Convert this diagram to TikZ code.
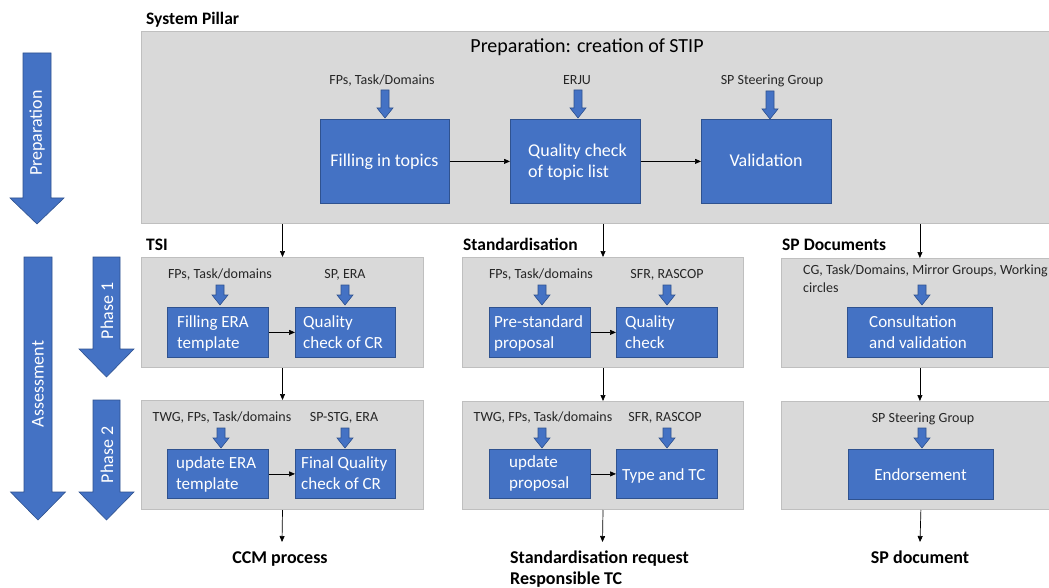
\documentclass[tikz,border=0pt]{standalone}
\usepackage{fontspec}
\setmainfont{Carlito}
\usetikzlibrary{arrows.meta}

\definecolor{panelfill}{HTML}{D9D9D9}
\definecolor{panelline}{HTML}{BFBFBF}
\definecolor{taskblue}{HTML}{4472C4}
\definecolor{taskline}{HTML}{2F528F}
\definecolor{labelgrey}{HTML}{262626}

\tikzset{
  panel/.style={draw=panelline, fill=panelfill, line width=1pt, inner sep=0pt, anchor=north west},
  task/.style={draw=taskline, fill=taskblue, line width=0.8pt, inner sep=0pt, anchor=north west},
  tasktext/.style={text=white, font=\fontsize{17}{21}\selectfont, inner sep=0pt, anchor=base west},
  bigtask/.style={tasktext, font=\fontsize{18}{22}\selectfont},
  inputlabel/.style={text=labelgrey, font=\fontsize{14}{17}\selectfont, inner sep=0pt, anchor=base},
  heading/.style={font=\bfseries\fontsize{17.5}{21}\selectfont, inner sep=0pt, anchor=base west},
  outcome/.style={font=\bfseries\fontsize{18}{21}\selectfont, inner sep=0pt, anchor=base west},
  flow/.style={-{Triangle[length=6pt,width=5pt]}, line width=0.7pt},
  blockarrow/.style={fill=taskblue, draw=taskline, line width=0.6pt},
  arrowtext/.style={text=white, font=\fontsize{18}{22}\selectfont, inner sep=0pt, rotate=90},
}

% small input arrow: x, top, tip
\newcommand\inputarrow[3]{%
  \draw[blockarrow] ({#1-4},#2) -- ({#1+4},#2) -- ({#1+4},{#3-10}) -- ({#1+8},{#3-10})
    -- (#1,#3) -- ({#1-8},{#3-10}) -- ({#1-4},{#3-10}) -- cycle;}
% big phase arrow: centre x, top, head start, tip, shaft half width, head half width
\newcommand\phasearrow[6]{%
  \draw[blockarrow] ({#1-#5},#2) -- ({#1+#5},#2) -- ({#1+#5},#3) -- ({#1+#6},#3)
    -- (#1,#4) -- ({#1-#6},#3) -- ({#1-#5},#3) -- cycle;}

\begin{document}
\begin{tikzpicture}[x=1pt,y=-1pt]
\useasboundingbox[fill=white] (0,0) rectangle (1049,588);

% ---------- phase arrows on the left ----------
\phasearrow{37}{53}{198}{224}{14}{27}
\node[arrowtext] (tprep) at (37,133) {Preparation};
\phasearrow{38}{257}{492}{520}{14}{27.5}
\node[arrowtext] (tassess) at (38,384) {Assessment};
\phasearrow{106.5}{257}{349}{377}{13.5}{27.5}
\node[arrowtext] (tph1) at (107,311) {Phase 1};
\phasearrow{106.5}{400}{492}{520}{13.5}{27.5}
\node[arrowtext] (tph2) at (107,455) {Phase 2};

% ---------- System Pillar ----------
\node[heading] (hsp) at (146,25) {System Pillar};
\node[panel, minimum width=920pt, minimum height=192pt] (prep) at (141,31) {};
\node[inner sep=0pt, anchor=base, font=\fontsize{20}{24}\selectfont] (ptitle) at (587,53) {Preparation: creation of STIP};

\node[inputlabel] (l1) at (382,85) {FPs, Task/Domains};
\node[inputlabel] (l2) at (577,85) {ERJU};
\node[inputlabel] (l3) at (772,85) {SP Steering Group};
\inputarrow{385}{90}{118}
\inputarrow{578}{90}{118}
\inputarrow{770}{91}{119}

\node[task, minimum width=129pt, minimum height=84pt] (fill) at (320,119) {};
\node[task, minimum width=130pt, minimum height=84pt] (qtl) at (510,119) {};
\node[task, minimum width=130pt, minimum height=84pt] (valid) at (701,119) {};
\node[bigtask, anchor=base] (tfill) at (384.5,167) {Filling in topics};
\node[bigtask] (tqtl1) at (528,157) {Quality check};
\node[bigtask] (tqtl2) at (528,178) {of topic list};
\node[bigtask, anchor=base] (tvalid) at (766,167) {Validation};
\draw[flow] (fill.east) -- (qtl.west);
\draw[flow] (qtl.east) -- (valid.west);

% ---------- TSI ----------
\node[heading] (htsi) at (146,251) {TSI};
\node[panel, minimum width=282pt, minimum height=110pt] (tsiA) at (141,257) {};
\node[panel, minimum width=282pt, minimum height=109pt] (tsiB) at (141,400) {};
\draw[flow] (prep.south -| tsiA.north) -- (tsiA.north);
\draw[flow] (tsiA.south) -- (tsiB.north);

\node[inputlabel] (l4) at (220,278) {FPs, Task/domains};
\node[inputlabel] (l5) at (345,278) {SP, ERA};
\inputarrow{220}{285}{305}
\inputarrow{345}{285}{305}
\node[task, minimum width=101pt, minimum height=50pt] (era) at (167,307) {};
\node[task, minimum width=100pt, minimum height=50pt] (qcr) at (295,307) {};
\node[tasktext] (tera1) at (177,327) {Filling ERA};
\node[tasktext] (tera2) at (177,348) {template};
\node[tasktext] (tqcr1) at (303,327) {Quality};
\node[tasktext] (tqcr2) at (303,348) {check of CR};
\draw[flow] (era.east) -- (qcr.west);

\node[inputlabel] (l6) at (222,421) {TWG, FPs, Task/domains};
\node[inputlabel] (l7) at (344,421) {SP-STG, ERA};
\inputarrow{221}{428}{448}
\inputarrow{345}{428}{448}
\node[task, minimum width=101pt, minimum height=49pt] (upd) at (167,449) {};
\node[task, minimum width=100pt, minimum height=49pt] (fqc) at (295,449) {};
\node[tasktext] (tupd1) at (176,468) {update ERA};
\node[tasktext] (tupd2) at (176,489) {template};
\node[tasktext] (tfqc1) at (301,468) {Final Quality};
\node[tasktext] (tfqc2) at (301,489) {check of CR};
\draw[flow] (upd.east) -- (fqc.west);

% ---------- Standardisation ----------
\node[heading] (hstd) at (463,251) {Standardisation};
\node[panel, minimum width=281pt, minimum height=110pt] (stdA) at (462,257) {};
\node[panel, minimum width=281pt, minimum height=108pt] (stdB) at (462,401) {};
\draw[flow] (prep.south -| stdA.north) -- (stdA.north);
\draw[flow] (stdA.south) -- (stdB.north);

\node[inputlabel] (l8) at (541,278) {FPs, Task/domains};
\node[inputlabel] (l9) at (667,278) {SFR, RASCOP};
\inputarrow{542}{285}{305}
\inputarrow{667}{285}{305}
\node[task, minimum width=101pt, minimum height=50pt] (pre) at (489,307) {};
\node[task, minimum width=101pt, minimum height=50pt] (qc) at (616,307) {};
\node[tasktext] (tpre1) at (494,327) {Pre-standard};
\node[tasktext] (tpre2) at (494,348) {proposal};
\node[tasktext] (tqc1) at (625,327) {Quality};
\node[tasktext] (tqc2) at (625,348) {check};
\draw[flow] (pre.east) -- (qc.west);

\node[inputlabel] (l10) at (543,421) {TWG, FPs, Task/domains};
\node[inputlabel] (l11) at (665,421) {SFR, RASCOP};
\inputarrow{542}{428}{448}
\inputarrow{667}{428}{448}
\node[task, minimum width=101pt, minimum height=49pt] (updp) at (489,449) {};
\node[task, minimum width=101pt, minimum height=49pt] (type) at (616,449) {};
\node[tasktext] (tupdp1) at (509,467) {update};
\node[tasktext] (tupdp2) at (509,488) {proposal};
\node[tasktext] (ttype) at (622,480) {Type and TC};
\draw[flow] (updp.east) -- (type.west);

% ---------- SP Documents ----------
\node[heading] (hspd) at (782,251) {SP Documents};
\node[panel, minimum width=290pt, minimum height=109pt] (spdA) at (781,258) {};
\node[panel, minimum width=290pt, minimum height=108pt] (spdB) at (781,401) {};

\node[inputlabel, anchor=base west] (l12) at (803,274) {CG, Task/Domains, Mirror Groups, Working};
\node[inputlabel, anchor=base west] (l13) at (803,292) {circles};
\inputarrow{922}{285}{305}
\node[task, minimum width=145pt, minimum height=50pt] (cons) at (847,307) {};
\node[tasktext] (tcons1) at (869,327) {Consultation};
\node[tasktext] (tcons2) at (869,348) {and validation};

\node[inputlabel] (l14) at (923,422) {SP Steering Group};
\inputarrow{922}{428}{448}
\node[task, minimum width=145pt, minimum height=50pt] (endo) at (848,449) {};
\node[tasktext, anchor=base] (tendo) at (920.5,480) {Endorsement};

\draw[flow] (prep.south -| cons.north) -- (spdA.north -| cons.north);
\draw[flow] (spdA.south -| cons.south) -- (spdB.north -| cons.south);

% ---------- outcomes ----------
\node[outcome, anchor=base] (ccm) at (280,563) {CCM process};
\node[outcome] (sreq1) at (510,563) {Standardisation request};
\node[outcome] (sreq2) at (510,584) {Responsible TC};
\node[outcome, anchor=base] (spdoc) at (920,563) {SP document};
\coordinate (out1) at (282,542);
\coordinate (out2) at (602.5,542);
\draw[flow] (tsiB.south) -- (out1);
\draw[flow] (stdB.south) -- (out2);
\draw[flow] (spdB.south -| endo.south) -- (spdoc.north |- out1);
\end{tikzpicture}
\end{document}
